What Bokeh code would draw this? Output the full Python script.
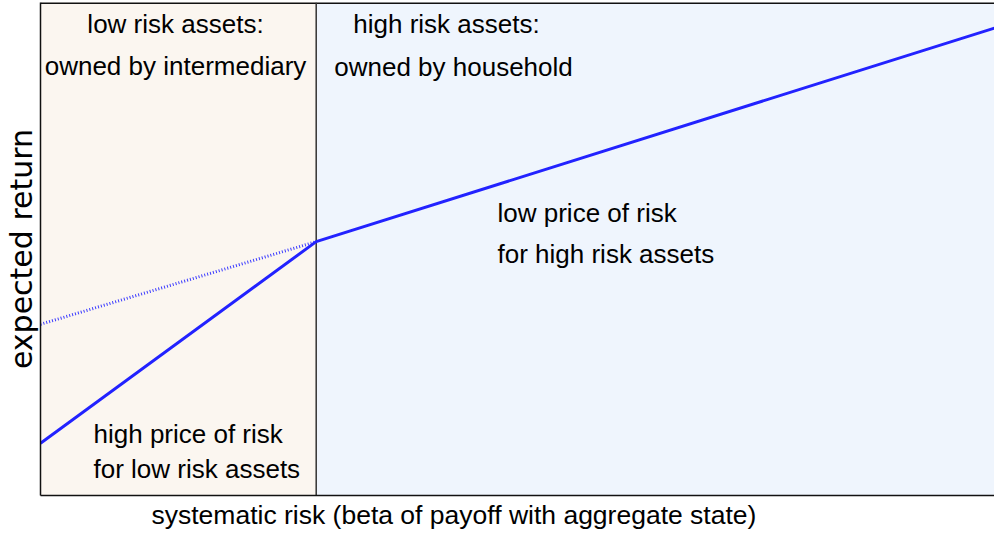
from bokeh.plotting import figure
from bokeh.models import Range1d, FixedTicker, Title
from bokeh.core.properties import value
from bokeh.embed import file_html
from bokeh.resources import INLINE

# ---- data (x: systematic risk, 0..1; y: expected return, arbitrary units) ----
boundary_beta = 0.289
priced_beta = [0.0, 0.289, 1.0]
priced_return = [10.6, 51.6, 95.0]
capm_beta = [0.0, 0.289]
capm_return = [34.8, 51.6]

x_title = "systematic risk (beta of payoff with aggregate state)"
y_title = "expected return"
left_header = ["low risk assets:", "owned by intermediary"]
right_header = ["high risk assets:", "owned by household"]
low_note = ["high price of risk", "for low risk assets"]
high_note = ["low price of risk", "for high risk assets"]

Y_TOP = 100.2
FONT = "Liberation Sans"

p = figure(width=994, height=541, output_backend="svg", toolbar_location=None,
           x_range=Range1d(0, 1), y_range=Range1d(0, Y_TOP),
           min_border_left=40, min_border_right=0, min_border_top=2,
           min_border_bottom=46)
p.outline_line_color = None
p.background_fill_color = "white"
p.border_fill_color = "white"
p.grid.visible = False

for ax in (p.xaxis[0], p.yaxis[0]):
    ax.ticker = FixedTicker(ticks=[])
    ax.major_tick_line_color = None
    ax.minor_tick_line_color = None
    ax.major_tick_out = 0
    ax.major_label_standoff = 0
    ax.major_label_text_font_size = "0px"
    ax.axis_line_color = "#111111"
    ax.axis_line_width = 1.5

p.yaxis.axis_label = y_title
p.yaxis.axis_label_text_font = "DejaVu Sans"
p.yaxis.axis_label_text_font_size = "30px"
p.yaxis.axis_label_text_font_style = "normal"
p.yaxis.axis_label_text_color = "black"
p.yaxis.axis_label_standoff = 2

p.add_layout(Title(text=x_title, align="left", offset=111, text_font=FONT,
                   text_font_size="26.5px", text_font_style="normal",
                   text_color="black", standoff=4), "below")

# shaded regions
p.quad(left=[0], right=[boundary_beta], bottom=[0], top=[Y_TOP],
       fill_color="#fbf6f0", line_color=None)
p.quad(left=[boundary_beta], right=[1], bottom=[0], top=[Y_TOP],
       fill_color="#eff5fd", line_color=None)

# top border and divider
p.line([0, 1], [Y_TOP, Y_TOP], line_color="#111111", line_width=3)
p.line([boundary_beta, boundary_beta], [0, Y_TOP], line_color="#333333", line_width=1.5)

# lines
p.line(capm_beta, capm_return, line_color="#3a3aff", line_width=3, line_dash="1 2")
p.line(priced_beta, priced_return, line_color="#2222ff", line_width=3)

def px_x(px):
    return (px - 40) / 954.0

def px_y(py):
    return (495 - py) / 492.0 * 100

SHIFT = 9

def txt(s, x, y, align="left"):
    p.text(x=[x], y=[px_y(y - SHIFT)], text=[s], text_font=value(FONT),
           text_font_size="26px", text_color="black", text_align=align,
           text_baseline="alphabetic")

txt(left_header[0], px_x(175), 33, "center")
txt(left_header[1], px_x(175), 75, "center")
txt(right_header[0], px_x(446), 33, "center")
txt(right_header[1], px_x(453), 76, "center")
txt(high_note[0], px_x(497), 222)
txt(high_note[1], px_x(497), 263)
txt(low_note[0], px_x(93), 443)
txt(low_note[1], px_x(93), 478)

open("out.html", "w").write(file_html(p, INLINE))
